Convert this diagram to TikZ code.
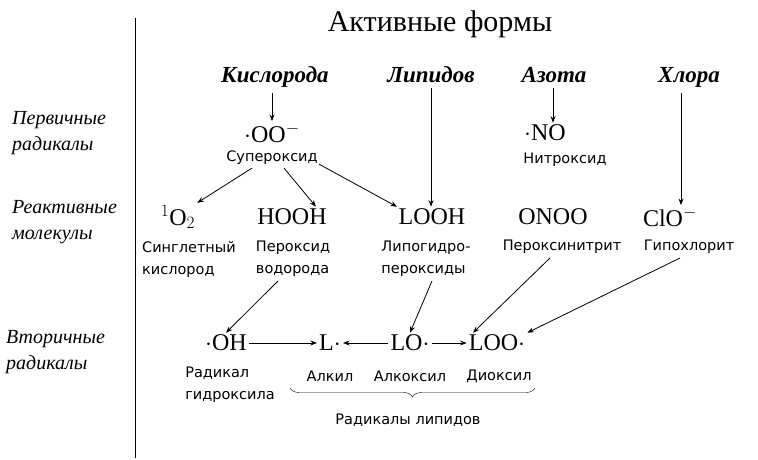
\documentclass[tikz,border=0pt]{standalone}
\usepackage{fontspec}
\setmainfont{Liberation Serif}
\newfontfamily\lblfont{DejaVu Sans}
\usetikzlibrary{arrows.meta,decorations.pathreplacing}

\begin{document}
\begin{tikzpicture}[x=1pt, y=-1pt, >=Stealth,
    chem/.style={font=\fontsize{24}{24}\selectfont, inner sep=2pt},
    lbl/.style={font=\lblfont\fontsize{14.5}{22}\selectfont, align=left, inner sep=1pt},
    head/.style={font=\bfseries\itshape\fontsize{23}{23}\selectfont, inner sep=2pt, anchor=base},
    side/.style={font=\itshape\fontsize{20}{26}\selectfont, align=left, anchor=west, inner sep=0pt},
    arr/.style={->, thick}]
    \useasboundingbox (0,0) rectangle (758,460);
    \draw (135,18) -- (135,458);
    \node[font=\fontsize{30}{30}\selectfont] (title) at (440,24) {Активные формы};
    % headers
    \node[head] (ox) at (275,82) {Кислорода};
    \node[head] (lip) at (431,82) {Липидов};
    \node[head] (az) at (554,82) {Азота};
    \node[head] (cl) at (689,82) {Хлора};
    % left labels
    \node[side] (prim) at (12,133) {Первичные\\радикалы};
    \node[side] (react) at (12,222) {Реактивные\\молекулы};
    \node[side] (sec) at (6,352) {Вторичные\\радикалы};
    % primary radicals
    \node[chem] (oo) at (272,133) {$\cdot$OO$^{-}$};
    \node[lbl] (oolbl) at (272,158) {Супероксид};
    \node[chem] (no) at (545,133) {$\cdot$NO};
    \node[lbl] (nolbl) at (565,160) {Нитроксид};
    % reactive molecules
    \node[chem] (o2) at (178,217) {$^{1}$O$_2$};
    \node[chem] (hooh) at (292,217) {HOOH};
    \node[chem] (looh) at (432,217) {LOOH};
    \node[chem] (onoo) at (553,217) {ONOO};
    \node[chem] (clo) at (670,217) {ClO$^{-}$};
    \node[lbl] (o2lbl) at (189,259) {Синглетный\\кислород};
    \node[lbl] (hoohlbl) at (293,259) {Пероксид\\водорода};
    \node[lbl] (loohlbl) at (426,259) {Липогидро-\\пероксиды};
    \node[lbl] (onoolbl) at (562,247) {Пероксинитрит};
    \node[lbl] (clolbl) at (689,247) {Гипохлорит};
    % secondary radicals
    \node[chem] (oh) at (226,343) {$\cdot$OH};
    \node[chem] (l) at (330,343) {L$\cdot$};
    \node[chem] (lo) at (410,343) {LO$\cdot$};
    \node[chem] (loo) at (497,343) {LOO$\cdot$};
    \node[lbl] (ohlbl) at (230,385) {Радикал\\гидроксила};
    \node[lbl] (llbl) at (330,376) {Алкил};
    \node[lbl] (lolbl) at (410,376) {Алкоксил};
    \node[lbl] (loolbl) at (499,376) {Диоксил};
    \draw[decorate, decoration={brace, amplitude=9pt}] (535,388) -- (290,388)
      coordinate[pos=0.5] (bmid);
    \node[lbl] (liplbl) at (408,420) {Радикалы липидов};
    % arrows
    \draw[arr] (ox.south) ++(-3,4) coordinate (a1) -- (a1 |- oo.north);
    \draw[arr] (lip.south) ++(0,4) coordinate (a4) -- (a4 |- looh.north);
    \draw[arr] (az.south) ++(-1,4) coordinate (a2) -- (a2 |- no.north);
    \draw[arr] (cl.south) ++(-8,4) coordinate (a3) -- (a3 |- clo.north);
    \draw[arr] (oolbl.south) ++(-20,2) -- (o2.north east);
    \draw[arr] (oolbl.south) ++(12,2) -- ([xshift=24pt]hooh.north);
    \draw[arr] (oolbl.south east) ++(0,-2) -- ([xshift=-35pt]looh.north);
    \draw[arr] (hoohlbl.south) ++(-15,3) -- (oh.north);
    \draw[arr] (loohlbl.south) ++(6,3) -- (lo.north);
    \draw[arr] (onoolbl.south) ++(-12,3) -- ([xshift=-24pt]loo.north);
    \draw[arr] (clolbl.south) ++(-9,3) -- (loo.north east);
    \draw[arr] (oh) -- (l);
    \draw[arr] (lo) -- (l);
    \draw[arr] (lo) -- (loo);
\end{tikzpicture}
\end{document}
